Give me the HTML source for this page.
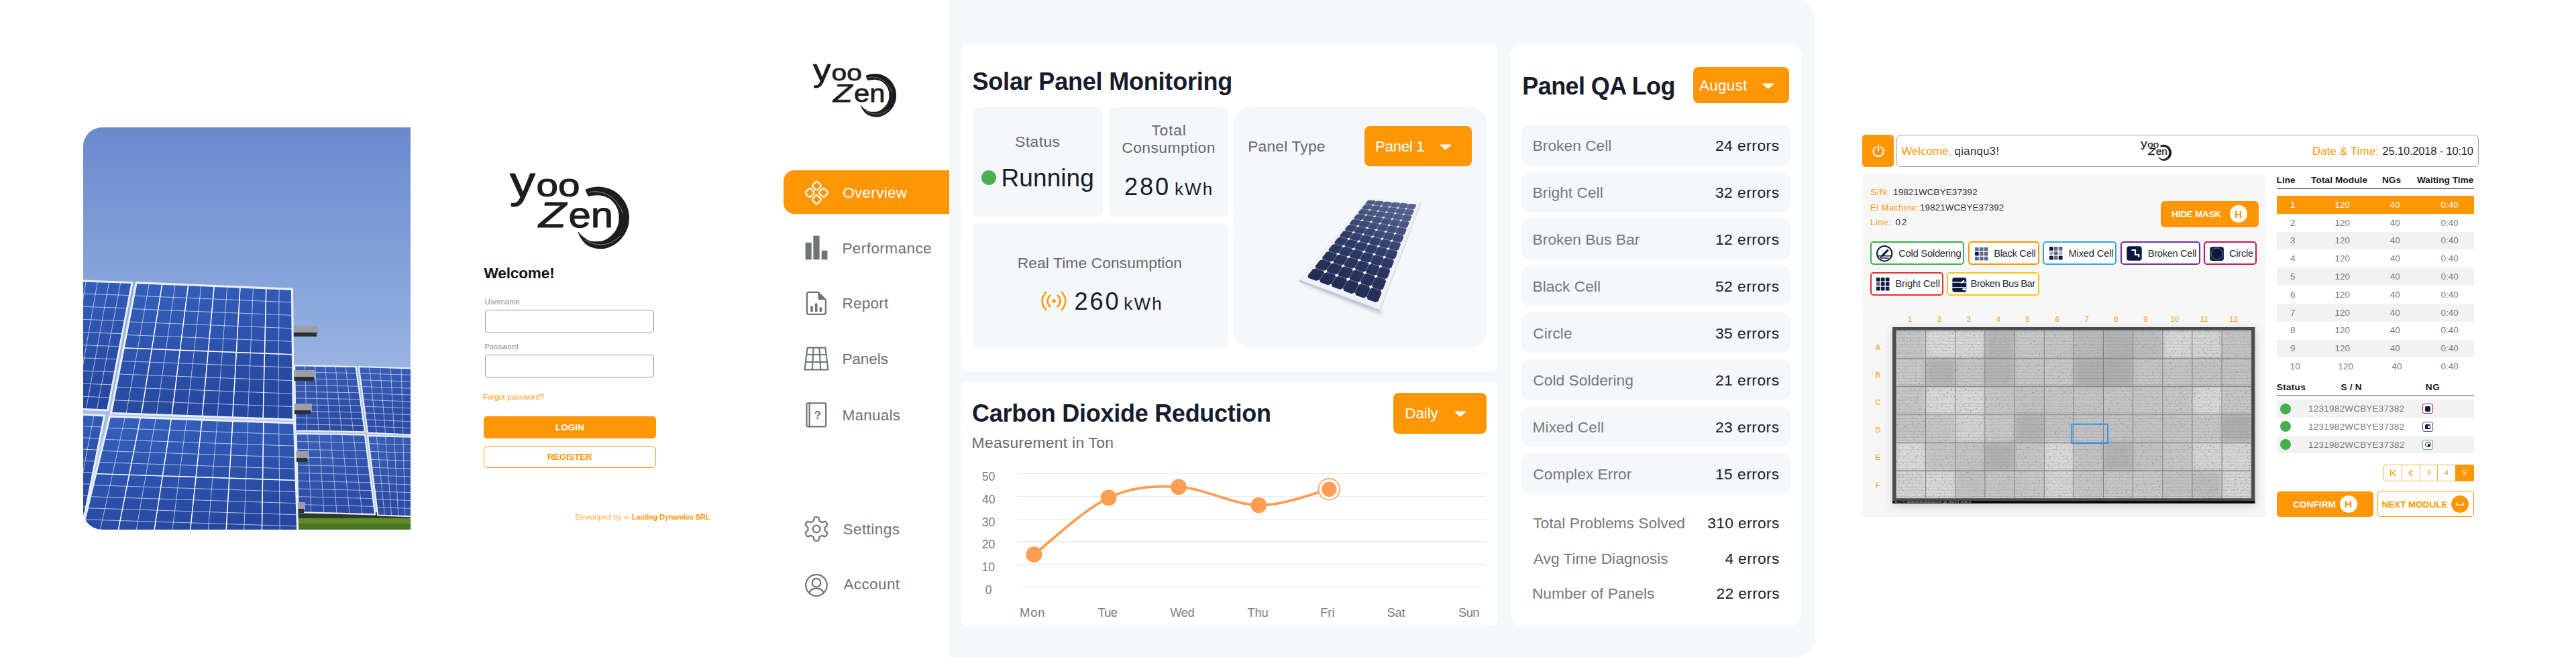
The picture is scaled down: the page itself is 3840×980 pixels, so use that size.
<!DOCTYPE html>
<html lang="en"><head><meta charset="utf-8"><title>YooZen Solar Panel Monitoring</title>
<style>
html,body{margin:0;padding:0;background:#fff;}
body{width:3840px;height:980px;position:relative;overflow:hidden;font-family:"Liberation Sans",sans-serif;}
.t{position:absolute;white-space:pre;line-height:1;display:block;}
.b{position:absolute;display:block;}
</style></head><body>

<svg class="b" style="left:124.0px;top:190.0px;border-radius:28px 0 0 28px;" width="488" height="600" viewBox="0 0 488 600"><defs><linearGradient id="sky" x1="0" y1="0" x2="0" y2="1"><stop offset="0" stop-color="#6a8acd"/><stop offset="0.42" stop-color="#89a7dc"/><stop offset="0.75" stop-color="#a8c0e8"/><stop offset="1" stop-color="#c6d7f0"/></linearGradient><linearGradient id="pn" x1="0" y1="0" x2="0.3" y2="1"><stop offset="0" stop-color="#3561bf"/><stop offset="1" stop-color="#26479f"/></linearGradient><linearGradient id="pn2" x1="0" y1="0" x2="0.3" y2="1"><stop offset="0" stop-color="#3a5fb8"/><stop offset="1" stop-color="#2b4ba4"/></linearGradient></defs><rect width="488" height="600" fill="url(#sky)"/><rect x="318" y="574" width="170" height="26" fill="#2e3a2a"/><rect x="318" y="583" width="170" height="17" fill="#5f8a26"/><rect x="318" y="591" width="170" height="9" fill="#4a741d"/><polygon points="315.2,355.2 406.5,357.0 419.9,454.3 316.4,452.5" fill="url(#pn2)"/><path d="M330.4 355.5L333.6 452.8M345.6 355.8L350.9 453.1M360.9 356.1L368.1 453.4M376.1 356.4L385.4 453.7M391.3 356.7L402.6 454.0M315.3 364.9L407.8 366.7M315.4 374.7L409.2 376.5M315.6 384.4L410.5 386.2M315.7 394.1L411.9 395.9M315.8 403.9L413.2 405.6M315.9 413.6L414.5 415.4M316.0 423.3L415.9 425.1M316.2 433.0L417.2 434.8M316.3 442.8L418.6 444.6" stroke="#fff" stroke-width="0.7" fill="none" opacity="0.8"/><polygon points="315.2,355.2 406.5,357.0 419.9,454.3 316.4,452.5" fill="none" stroke="#e9eef5" stroke-width="2.2"/><polygon points="410.7,357.0 490.0,359.4 490.0,458.6 424.1,455.6" fill="url(#pn2)"/><path d="M426.6 357.5L437.3 456.2M442.4 358.0L450.5 456.8M458.3 358.4L463.6 457.4M474.1 358.9L476.8 458.0M412.0 366.9L490.0 369.3M413.4 376.7L490.0 379.2M414.7 386.6L490.0 389.2M416.1 396.4L490.0 399.1M417.4 406.3L490.0 409.0M418.7 416.2L490.0 418.9M420.1 426.0L490.0 428.8M421.4 435.9L490.0 438.8M422.8 445.7L490.0 448.7" stroke="#fff" stroke-width="0.7" fill="none" opacity="0.8"/><polygon points="410.7,357.0 490.0,359.4 490.0,458.6 424.1,455.6" fill="none" stroke="#e9eef5" stroke-width="2.2"/><polygon points="317.6,456.8 419.9,458.6 435.1,577.3 320.7,574.2" fill="url(#pn2)"/><path d="M334.7 457.1L339.8 574.7M351.7 457.4L358.8 575.2M368.8 457.7L377.9 575.8M385.8 458.0L397.0 576.3M402.9 458.3L416.0 576.8M317.9 468.5L421.4 470.5M318.2 480.3L422.9 482.3M318.5 492.0L424.5 494.2M318.8 503.8L426.0 506.1M319.1 515.5L427.5 518.0M319.5 527.2L429.0 529.8M319.8 539.0L430.5 541.7M320.1 550.7L432.1 553.6M320.4 562.5L433.6 565.4" stroke="#fff" stroke-width="0.7" fill="none" opacity="0.8"/><polygon points="317.6,456.8 419.9,458.6 435.1,577.3 320.7,574.2" fill="none" stroke="#e9eef5" stroke-width="2.2"/><polygon points="424.1,459.8 490.0,461.7 490.0,580.3 439.3,578.5" fill="url(#pn2)"/><path d="M437.3 460.2L449.4 578.9M450.5 460.6L459.6 579.2M463.6 460.9L469.7 579.6M476.8 461.3L479.9 579.9M425.6 471.7L490.0 473.6M427.1 483.5L490.0 485.4M428.7 495.4L490.0 497.3M430.2 507.3L490.0 509.1M431.7 519.1L490.0 521.0M433.2 531.0L490.0 532.9M434.7 542.9L490.0 544.7M436.3 554.8L490.0 556.6M437.8 566.6L490.0 568.4" stroke="#fff" stroke-width="0.7" fill="none" opacity="0.8"/><polygon points="424.1,459.8 490.0,461.7 490.0,580.3 439.3,578.5" fill="none" stroke="#e9eef5" stroke-width="2.2"/><rect x="313" y="296" width="37" height="12" fill="#9a9fa6"/><rect x="313" y="306" width="35" height="6" fill="#2c2f33"/><rect x="313" y="362" width="33" height="12" fill="#9a9fa6"/><rect x="313" y="372" width="31" height="6" fill="#2c2f33"/><rect x="313" y="412" width="28" height="12" fill="#9a9fa6"/><rect x="313" y="422" width="26" height="6" fill="#2c2f33"/><rect x="314" y="483" width="22" height="12" fill="#9a9fa6"/><rect x="314" y="493" width="20" height="6" fill="#2c2f33"/><rect x="315" y="559" width="16" height="12" fill="#9a9fa6"/><rect x="315" y="569" width="14" height="6" fill="#2c2f33"/><polygon points="-30.0,228.0 73.0,231.6 36.5,422.0 -60.0,418.0" fill="url(#pn)"/><path d="M-12.8 228.6L-43.9 418.7M4.3 229.2L-27.8 419.3M21.5 229.8L-11.8 420.0M38.7 230.4L4.3 420.7M55.8 231.0L20.4 421.3M-33.0 247.0L69.3 250.6M-36.0 266.0L65.7 269.7M-39.0 285.0L62.0 288.7M-42.0 304.0L58.4 307.8M-45.0 323.0L54.8 326.8M-48.0 342.0L51.1 345.8M-51.0 361.0L47.5 364.9M-54.0 380.0L43.8 383.9M-57.0 399.0L40.1 403.0" stroke="#fff" stroke-width="0.8" fill="none" opacity="0.8"/><polygon points="-30.0,228.0 73.0,231.6 36.5,422.0 -60.0,418.0" fill="none" stroke="#e9eef5" stroke-width="3"/><polygon points="-62.0,425.0 31.6,430.0 -2.0,600.0 -90.0,600.0" fill="url(#pn)"/><path d="M-46.4 425.8L-75.3 600.0M-30.8 426.7L-60.7 600.0M-15.2 427.5L-46.0 600.0M0.4 428.3L-31.3 600.0M16.0 429.2L-16.7 600.0M-64.8 442.5L28.2 447.0M-67.6 460.0L24.9 464.0M-70.4 477.5L21.5 481.0M-73.2 495.0L18.2 498.0M-76.0 512.5L14.8 515.0M-78.8 530.0L11.4 532.0M-81.6 547.5L8.1 549.0M-84.4 565.0L4.7 566.0M-87.2 582.5L1.4 583.0" stroke="#fff" stroke-width="0.8" fill="none" opacity="0.8"/><polygon points="-62.0,425.0 31.6,430.0 -2.0,600.0 -90.0,600.0" fill="none" stroke="#e9eef5" stroke-width="3"/><polygon points="79.1,231.6 311.5,241.4 313.4,436.1 41.4,426.4" fill="url(#pn)"/><path d="M98.5 232.4L64.1 427.2M117.8 233.2L86.7 428.0M137.2 234.1L109.4 428.8M156.6 234.9L132.1 429.6M175.9 235.7L154.7 430.4M195.3 236.5L177.4 431.2M214.7 237.3L200.1 432.1M234.0 238.1L222.7 432.9M253.4 238.9L245.4 433.7M272.8 239.8L268.1 434.5M292.1 240.6L290.7 435.3M75.3 251.1L311.7 260.9M71.6 270.6L311.9 280.3M67.8 290.0L312.1 299.8M64.0 309.5L312.3 319.3M60.2 329.0L312.4 338.8M56.5 348.5L312.6 358.2M52.7 368.0L312.8 377.7M48.9 387.4L313.0 397.2M45.2 406.9L313.2 416.6" stroke="#fff" stroke-width="0.8" fill="none" opacity="0.8"/><path d="M117.8 233.2L86.7 428.0M156.6 234.9L132.1 429.6M195.3 236.5L177.4 431.2M234.0 238.1L222.7 432.9M272.8 239.8L268.1 434.5M60.2 329.0L312.4 338.8" stroke="#fff" stroke-width="1.44" fill="none"/><polygon points="79.1,231.6 311.5,241.4 313.4,436.1 41.4,426.4" fill="none" stroke="#e9eef5" stroke-width="3.2"/><polygon points="39.6,431.2 314.6,441.0 320.0,612.0 -2.0,602.0" fill="url(#pn)"/><path d="M62.5 432.0L24.8 602.8M85.4 432.8L51.7 603.7M108.3 433.6L78.5 604.5M131.3 434.5L105.3 605.3M154.2 435.3L132.2 606.2M177.1 436.1L159.0 607.0M200.0 436.9L185.8 607.8M222.9 437.7L212.7 608.7M245.8 438.6L239.5 609.5M268.8 439.4L266.3 610.3M291.7 440.2L293.2 611.2M35.4 448.3L315.1 458.1M31.3 465.4L315.7 475.2M27.1 482.4L316.2 492.3M23.0 499.5L316.8 509.4M18.8 516.6L317.3 526.5M14.6 533.7L317.8 543.6M10.5 550.8L318.4 560.7M6.3 567.8L318.9 577.8M2.2 584.9L319.5 594.9" stroke="#fff" stroke-width="0.8" fill="none" opacity="0.8"/><path d="M85.4 432.8L51.7 603.7M131.3 434.5L105.3 605.3M177.1 436.1L159.0 607.0M222.9 437.7L212.7 608.7M268.8 439.4L266.3 610.3M18.8 516.6L317.3 526.5" stroke="#fff" stroke-width="1.44" fill="none"/><polygon points="39.6,431.2 314.6,441.0 320.0,612.0 -2.0,602.0" fill="none" stroke="#e9eef5" stroke-width="3.2"/></svg>
<svg class="b" style="left:760.0px;top:260.0px;overflow:visible;" width="180" height="114" viewBox="0 0 180 114"><path d="M112.3 23.0L116.8 21.1L121.4 19.8L126.2 18.9L131.0 18.6L135.9 18.7L140.7 19.4L145.5 20.5L150.1 22.2L154.5 24.3L158.6 27.0L162.4 30.1L165.9 33.6L169.0 37.4L171.7 41.5L173.9 45.9L175.7 50.5L177.0 55.2L177.7 60.1L178.0 65.0L177.7 69.9L177.0 74.8L175.7 79.5L173.9 84.1L171.7 88.5L169.0 92.6L165.9 96.4L162.4 99.9L158.6 103.0L154.5 105.7L150.1 107.9L145.5 109.7L140.8 111.0L135.9 111.3L131.0 111.0L126.3 110.2L121.7 108.8L117.3 107.0L113.5 104.4L110.1 101.1L107.3 97.6L104.9 94.0L103.1 90.2L101.7 86.3L102.4 85.8L104.6 88.7L107.2 91.4L110.1 93.8L113.1 95.9L116.3 98.0L119.8 99.4L123.6 100.0L127.3 100.2L131.0 100.0L134.7 100.0L138.3 99.3L141.7 98.0L144.9 96.2L147.9 94.2L150.6 91.9L153.0 89.5L155.3 86.9L157.4 84.2L159.1 81.2L160.4 78.1L161.5 74.9L162.2 71.6L162.5 68.3L162.5 65.0L162.5 61.7L162.2 58.4L161.5 55.1L160.5 51.9L159.1 48.8L157.5 45.8L155.4 43.0L153.1 40.4L150.6 38.1L147.8 36.0L144.6 34.4L141.4 33.1L138.0 32.1L134.5 31.5L131.0 31.3L127.5 31.5L123.9 31.8L120.3 32.2L116.8 33.0Z" fill="#1d1d1f"/><path d="M118 27 C135 22 160 32 168 58 M112 98 C128 108 150 108 164 92" stroke="#fff" stroke-width="0.9" fill="none" opacity="0.55"/><g font-family="Liberation Sans, sans-serif" fill="#1d1d1f" stroke="#1d1d1f" stroke-width="1.1" stroke-linejoin="round"><text x="0" y="34.2" font-size="66" textLength="38" lengthAdjust="spacingAndGlyphs">y</text><text x="39.6" y="33.4" font-size="48" textLength="65" lengthAdjust="spacingAndGlyphs">oo</text><text x="43" y="78.6" font-size="53.5" font-style="italic" textLength="41" lengthAdjust="spacingAndGlyphs">Z</text><text x="87.5" y="78.6" font-size="54" textLength="66.5" lengthAdjust="spacingAndGlyphs">en</text></g></svg>
<span class="t" style="left:721.5px;top:397.0px;font-size:22.5px;color:#111;letter-spacing:-0.10px;font-weight:700;">Welcome!</span>
<span class="t" style="left:722.6px;top:445.0px;font-size:11.2px;color:#8a8a8a;letter-spacing:0.09px;">Username</span>
<div class="b" style="left:723.0px;top:462.0px;width:252.0px;height:33.5px;background:#fff;border-radius:4.0px;border:1px solid #9a9a9a;box-sizing:border-box;"></div>
<span class="t" style="left:722.5px;top:512.0px;font-size:11.2px;color:#8a8a8a;letter-spacing:0.14px;">Password</span>
<div class="b" style="left:723.0px;top:529.3px;width:252.0px;height:33.5px;background:#fff;border-radius:4.0px;border:1px solid #9a9a9a;box-sizing:border-box;"></div>
<span class="t" style="left:720.3px;top:587.0px;font-size:11.2px;color:#FF9606;letter-spacing:0.07px;">Forgot password?</span>
<div class="b" style="left:721.0px;top:621.0px;width:257.0px;height:33.0px;background:#FF9606;border-radius:5.0px;"></div>
<span class="t" style="left:828.1px;top:631.0px;font-size:13.4px;color:#fff;letter-spacing:0.08px;font-weight:700;">LOGIN</span>
<div class="b" style="left:721.0px;top:665.5px;width:257.0px;height:32.5px;background:#fff;border-radius:5.0px;border:1.5px solid #FF9606;box-sizing:border-box;"></div>
<span class="t" style="left:815.9px;top:675.0px;font-size:13.4px;color:#FF9606;letter-spacing:-0.26px;font-weight:700;">REGISTER</span>
<span class="t" style="left:857.4px;top:766.0px;font-size:11.2px;color:#FFA83A;letter-spacing:0.06px;">Developed by</span>
<span class="t" style="left:929.9px;top:766.0px;font-size:11.2px;color:#FFA83A;">∞</span>
<span class="t" style="left:942.0px;top:766.0px;font-size:11.2px;color:#FF9606;letter-spacing:-0.25px;font-weight:700;">Lasting Dynamics SRL</span>
<div class="b" style="left:1415.0px;top:0.0px;width:1291.0px;height:980.0px;background:#F4F8FB;border-radius:0 30px 30px 0;"></div>
<div class="b" style="left:1432.2px;top:65.0px;width:801.3px;height:488.8px;background:#fff;border-radius:9.0px;"></div>
<span class="t" style="left:1449.5px;top:104.0px;font-size:36.0px;color:#171c2b;letter-spacing:-0.20px;font-weight:700;">Solar Panel Monitoring</span>
<div class="b" style="left:1449.8px;top:160.2px;width:193.8px;height:163.5px;background:#F4F8FB;border-radius:9.0px;"></div>
<span class="t" style="left:1513.2px;top:200.0px;font-size:22.8px;color:#67696d;letter-spacing:0.44px;">Status</span>
<div class="b" style="left:1463.0px;top:254.0px;width:22.4px;height:22.4px;background:#4CAF50;border-radius:12.0px;"></div>
<span class="t" style="left:1492.5px;top:247.0px;font-size:37.0px;color:#171c2b;letter-spacing:0.09px;">Running</span>
<div class="b" style="left:1652.8px;top:160.2px;width:177.8px;height:163.5px;background:#F4F8FB;border-radius:9.0px;"></div>
<span class="t" style="left:1716.4px;top:183.0px;font-size:22.8px;color:#67696d;letter-spacing:0.83px;">Total</span>
<span class="t" style="left:1672.2px;top:209.0px;font-size:22.8px;color:#67696d;letter-spacing:0.48px;">Consumption</span>
<span class="t" style="left:1676.1px;top:261.0px;font-size:36.2px;color:#171c2b;letter-spacing:2.80px;">280</span>
<span class="t" style="left:1750.9px;top:269.0px;font-size:26.0px;color:#171c2b;letter-spacing:2.19px;">kWh</span>
<div class="b" style="left:1449.8px;top:332.8px;width:380.8px;height:186.2px;background:#F4F8FB;border-radius:9.0px;"></div>
<span class="t" style="left:1516.7px;top:381.0px;font-size:22.8px;color:#67696d;letter-spacing:0.10px;">Real Time Consumption</span>
<svg class="b" style="left:1552.0px;top:434.0px;" width="38" height="30" viewBox="0 0 38 30"><g fill="none" stroke="#FF9606" stroke-width="2.5" stroke-linecap="round"><path d="M7.2 2.2 Q1.6 8 1.6 15 Q1.6 22 7.2 27.8"/><path d="M13.4 6.6 Q9.6 10.4 9.6 15 Q9.6 19.6 13.4 23.4"/><path d="M30.8 2.2 Q36.4 8 36.4 15 Q36.4 22 30.8 27.8"/><path d="M24.6 6.6 Q28.4 10.4 28.4 15 Q28.4 19.6 24.6 23.4"/></g><circle cx="19" cy="15" r="2.7" fill="#FF9606"/></svg>
<span class="t" style="left:1601.6px;top:432.0px;font-size:36.2px;color:#171c2b;letter-spacing:2.80px;">260</span>
<span class="t" style="left:1675.3px;top:440.0px;font-size:26.0px;color:#171c2b;letter-spacing:2.19px;">kWh</span>
<div class="b" style="left:1839.2px;top:160.2px;width:377.0px;height:358.8px;background:#F4F8FB;border-radius:24.0px;"></div>
<span class="t" style="left:1860.2px;top:207.0px;font-size:22.8px;color:#67696d;letter-spacing:0.18px;">Panel Type</span>
<div class="b" style="left:2033.6px;top:187.7px;width:160.4px;height:60.7px;background:#FF9606;border-radius:8.0px;"></div>
<span class="t" style="left:2050.0px;top:208.0px;font-size:22.6px;color:#fff;letter-spacing:-0.51px;">Panel 1</span>
<svg class="b" style="left:2146.4px;top:214.8px;" width="17.6" height="8.6" viewBox="0 0 17.6 8.6"><path d="M1.2 0.6 H16.4 Q17.6 1 17 1.8 L9.7 8 Q8.8 8.8 7.9 8 L0.6 1.8 Q0 1 1.2 0.6Z" fill="#fff"/></svg>
<svg class="b" style="left:1900.0px;top:270.0px;" width="280" height="210" viewBox="0 0 280 210"><defs><linearGradient id="cellg" x1="0.75" y1="0" x2="0.25" y2="1"><stop offset="0" stop-color="#56628c"/><stop offset="0.45" stop-color="#2f3a66"/><stop offset="1" stop-color="#1f284e"/></linearGradient><filter id="sh" x="-20%" y="-50%" width="140%" height="200%"><feGaussianBlur stdDeviation="2.5"/></filter></defs><polygon points="40.8,149.0 158.6,193.8 159.6,198.8 42.8,153.0" fill="#6f7a8c" opacity="0.5" filter="url(#sh)"/><polygon points="36.8,147.0 156.6,191.8 157.1,195.8 36.5,150.4" fill="#c3cad6"/><polygon points="216.7,32.0 156.6,191.8 157.1,195.8 218.3,34.0" fill="#d9dee7"/><polygon points="137.4,25.6 216.7,32.0 156.6,191.8 36.8,147.0" fill="#eef1f6"/><polygon points="139.5,28.3 211.6,34.7 153.5,182.1 47.4,143.4" fill="url(#cellg)"/><path d="M151.5 29.3L65.1 149.9M163.5 30.4L82.8 156.3M175.5 31.5L100.5 162.8M187.5 32.5L118.2 169.2M199.5 33.6L135.9 175.7M134.4 34.6L208.4 42.8M129.0 41.4L204.9 51.5M123.2 48.6L201.3 60.7M117.1 56.3L197.4 70.6M110.5 64.5L193.3 81.1M103.5 73.4L188.8 92.4M95.9 82.8L184.1 104.6M87.7 93.1L178.9 117.6M78.9 104.1L173.3 131.8M69.3 116.1L167.3 147.2M58.8 129.2L160.7 163.9" stroke="#b4bdd0" stroke-width="0.7" fill="none" opacity="0.7"/><path d="M137.5 28.1L140.3 27.2L141.5 28.4L138.7 29.3ZM132.3 34.4L135.3 33.5L136.5 34.9L133.5 35.7ZM126.8 41.1L129.9 40.2L131.2 41.7L128.0 42.6ZM121.0 48.3L124.2 47.3L125.4 48.9L122.2 49.9ZM114.8 55.9L118.2 54.9L119.4 56.7L116.0 57.7ZM108.2 64.1L111.7 63.1L112.9 65.0L109.3 66.0ZM101.0 72.8L104.7 71.8L105.9 73.9L102.2 74.9ZM93.4 82.2L97.2 81.2L98.4 83.5L94.5 84.5ZM85.1 92.4L89.1 91.3L90.3 93.8L86.2 94.9ZM76.2 103.3L80.4 102.2L81.5 104.9L77.3 106.1ZM66.5 115.2L71.0 114.0L72.0 117.0L67.6 118.3ZM55.9 128.2L60.7 126.9L61.7 130.2L57.0 131.5ZM44.4 142.3L49.4 140.9L50.4 144.5L45.4 146.0ZM149.5 29.1L152.3 28.2L153.5 29.5L150.7 30.4ZM144.6 35.8L147.6 34.8L148.8 36.2L145.9 37.2ZM139.5 42.8L142.5 41.8L143.8 43.4L140.8 44.3ZM134.0 50.3L137.2 49.3L138.5 51.0L135.3 51.9ZM128.2 58.3L131.5 57.3L132.8 59.1L129.5 60.1ZM122.0 66.8L125.4 65.8L126.6 67.8L123.2 68.8ZM115.3 76.0L118.8 74.9L120.1 77.1L116.5 78.2ZM108.1 85.8L111.8 84.7L113.1 87.1L109.3 88.2ZM100.3 96.5L104.2 95.3L105.5 97.9L101.5 99.1ZM91.9 108.0L96.1 106.7L97.3 109.5L93.1 110.8ZM82.8 120.4L87.2 119.1L88.4 122.2L84.0 123.5ZM72.9 134.0L77.5 132.5L78.7 135.9L74.1 137.4ZM62.1 148.8L67.0 147.2L68.1 151.0L63.2 152.5ZM161.5 30.2L164.2 29.3L165.6 30.6L162.8 31.6ZM157.0 37.1L159.8 36.1L161.2 37.6L158.3 38.6ZM152.2 44.5L155.1 43.5L156.5 45.0L153.5 46.1ZM147.0 52.3L150.1 51.3L151.5 53.0L148.4 54.0ZM141.6 60.6L144.8 59.6L146.1 61.5L142.9 62.5ZM135.8 69.6L139.1 68.5L140.4 70.5L137.1 71.6ZM129.5 79.2L133.0 78.0L134.3 80.2L130.8 81.4ZM122.8 89.5L126.4 88.3L127.8 90.7L124.1 91.9ZM115.5 100.6L119.4 99.3L120.7 102.0L116.8 103.2ZM107.7 112.6L111.7 111.2L113.0 114.1L109.0 115.5ZM99.2 125.6L103.4 124.2L104.7 127.3L100.4 128.8ZM89.9 139.8L94.4 138.2L95.7 141.7L91.2 143.3ZM79.8 155.2L84.6 153.6L85.8 157.4L81.0 159.1ZM173.5 31.3L176.2 30.3L177.6 31.6L174.8 32.7ZM169.3 38.5L172.1 37.5L173.5 39.0L170.6 40.0ZM164.8 46.2L167.7 45.1L169.1 46.7L166.2 47.8ZM160.1 54.3L163.1 53.2L164.5 55.0L161.4 56.1ZM155.0 63.0L158.1 61.9L159.5 63.8L156.4 65.0ZM149.6 72.3L152.8 71.2L154.2 73.3L150.9 74.5ZM143.7 82.3L147.2 81.1L148.6 83.4L145.1 84.7ZM137.5 93.1L141.0 91.8L142.5 94.3L138.9 95.6ZM130.7 104.7L134.5 103.3L135.9 106.1L132.1 107.4ZM123.4 117.2L127.4 115.7L128.8 118.7L124.8 120.2ZM115.5 130.8L119.7 129.2L121.1 132.5L116.9 134.1ZM106.9 145.5L111.3 143.9L112.7 147.5L108.3 149.2ZM97.5 161.7L102.1 159.9L103.5 163.9L98.8 165.7ZM185.5 32.4L188.2 31.3L189.6 32.7L186.9 33.8ZM181.6 39.9L184.4 38.8L185.8 40.3L183.0 41.4ZM177.5 47.8L180.3 46.7L181.8 48.4L178.9 49.5ZM173.1 56.3L176.0 55.2L177.5 57.0L174.5 58.2ZM168.4 65.4L171.5 64.2L172.9 66.2L169.8 67.4ZM163.3 75.1L166.6 73.9L168.0 76.0L164.8 77.3ZM158.0 85.5L161.3 84.2L162.8 86.6L159.4 87.9ZM152.2 96.7L155.7 95.3L157.2 97.9L153.6 99.3ZM145.9 108.8L149.6 107.3L151.1 110.1L147.4 111.6ZM139.2 121.8L143.0 120.3L144.5 123.4L140.7 124.9ZM131.8 135.9L135.9 134.3L137.4 137.7L133.3 139.4ZM123.9 151.3L128.1 149.6L129.6 153.3L125.4 155.1ZM115.2 168.1L119.7 166.2L121.2 170.3L116.6 172.3ZM197.5 33.4L200.1 32.3L201.6 33.8L199.0 34.9ZM193.9 41.2L196.6 40.1L198.1 41.7L195.4 42.8ZM190.1 49.5L192.9 48.3L194.4 50.1L191.6 51.3ZM186.1 58.4L189.0 57.1L190.5 59.0L187.6 60.3ZM181.8 67.8L184.8 66.5L186.3 68.6L183.3 69.9ZM177.1 77.9L180.3 76.6L181.8 78.8L178.7 80.1ZM172.2 88.7L175.5 87.3L177.0 89.8L173.7 91.2ZM166.9 100.3L170.3 98.9L171.9 101.5L168.4 103.0ZM161.1 112.9L164.7 111.3L166.3 114.2L162.7 115.8ZM154.9 126.4L158.7 124.8L160.3 128.0L156.5 129.6ZM148.2 141.1L152.1 139.4L153.7 142.9L149.8 144.6ZM140.9 157.1L145.0 155.2L146.6 159.1L142.4 161.0ZM132.8 174.6L137.2 172.6L138.9 176.8L134.4 178.8ZM209.5 34.5L212.1 33.3L213.6 34.9L211.0 36.0ZM206.3 42.6L208.9 41.4L210.4 43.1L207.8 44.3ZM202.8 51.2L205.5 50.0L207.1 51.8L204.3 53.0ZM199.1 60.4L201.9 59.1L203.5 61.1L200.7 62.3ZM195.2 70.2L198.1 68.8L199.7 71.0L196.7 72.3ZM190.9 80.6L194.0 79.3L195.6 81.6L192.6 83.0ZM186.4 91.9L189.6 90.4L191.3 92.9L188.1 94.4ZM181.6 103.9L184.9 102.4L186.6 105.2L183.2 106.7ZM176.3 116.9L179.8 115.3L181.5 118.3L178.0 120.0ZM170.7 131.0L174.3 129.3L176.0 132.6L172.3 134.3ZM164.5 146.3L168.4 144.5L170.1 148.0L166.2 149.9ZM157.8 162.9L161.9 160.9L163.6 164.8L159.5 166.9ZM150.5 181.0L154.8 178.9L156.5 183.2L152.3 185.4Z" fill="#f1f3f8"/></svg>
<div class="b" style="left:1432.2px;top:568.8px;width:801.3px;height:364.2px;background:#fff;border-radius:9.0px;"></div>
<span class="t" style="left:1449.0px;top:599.0px;font-size:36.0px;color:#171c2b;letter-spacing:-0.26px;font-weight:700;">Carbon Dioxide Reduction</span>
<span class="t" style="left:1448.6px;top:649.0px;font-size:22.8px;color:#67696d;letter-spacing:0.31px;">Measurement in Ton</span>
<div class="b" style="left:2077.2px;top:586.1px;width:138.6px;height:60.9px;background:#FF9606;border-radius:8.0px;"></div>
<span class="t" style="left:2094.3px;top:606.0px;font-size:22.6px;color:#fff;letter-spacing:-0.19px;">Daily</span>
<svg class="b" style="left:2168.1px;top:613.2px;" width="17.6" height="8.6" viewBox="0 0 17.6 8.6"><path d="M1.2 0.6 H16.4 Q17.6 1 17 1.8 L9.7 8 Q8.8 8.8 7.9 8 L0.6 1.8 Q0 1 1.2 0.6Z" fill="#fff"/></svg>
<div class="b" style="left:1515.6px;top:705.6px;width:700.2px;height:1.2px;background:#E8ECF1;"></div>
<span class="t" style="left:1463.8px;top:703.0px;font-size:17.6px;color:#7a7d82;">50</span>
<div class="b" style="left:1515.6px;top:739.5px;width:700.2px;height:1.2px;background:#E8ECF1;"></div>
<span class="t" style="left:1464.0px;top:737.0px;font-size:17.6px;color:#7a7d82;">40</span>
<div class="b" style="left:1515.6px;top:773.5px;width:700.2px;height:1.2px;background:#E8ECF1;"></div>
<span class="t" style="left:1463.8px;top:771.0px;font-size:17.6px;color:#7a7d82;">30</span>
<div class="b" style="left:1515.6px;top:807.4px;width:700.2px;height:1.2px;background:#E8ECF1;"></div>
<span class="t" style="left:1463.7px;top:804.0px;font-size:17.6px;color:#7a7d82;">20</span>
<div class="b" style="left:1515.6px;top:841.4px;width:700.2px;height:1.2px;background:#E8ECF1;"></div>
<span class="t" style="left:1463.5px;top:838.0px;font-size:17.6px;color:#7a7d82;">10</span>
<div class="b" style="left:1515.6px;top:875.2px;width:700.2px;height:1.2px;background:#E8ECF1;"></div>
<span class="t" style="left:1468.7px;top:872.0px;font-size:17.6px;color:#7a7d82;">0</span>
<svg class="b" style="left:1500.0px;top:690.0px;" width="540" height="200" viewBox="0 0 540 200"><path d="M41.3 137.2 C59.8 123.1 116.5 69.3 152.5 52.5 C188.5 35.7 219.7 34.4 257.0 36.3 C294.3 38.1 339.0 63.0 376.4 63.6 C413.8 64.2 463.8 43.8 481.3 39.8" fill="none" stroke="#FF9D52" stroke-width="3.8" stroke-linecap="round"/><circle cx="41.3" cy="137.2" r="11.9" fill="#FF9D52"/><circle cx="152.5" cy="52.5" r="11.9" fill="#FF9D52"/><circle cx="257.0" cy="36.3" r="11.9" fill="#FF9D52"/><circle cx="376.4" cy="63.6" r="11.9" fill="#FF9D52"/><circle cx="481.3" cy="39.8" r="15.9" fill="#fff" stroke="#FF9D52" stroke-width="1.6"/><circle cx="481.3" cy="39.8" r="11.2" fill="#FF9D52"/></svg>
<span class="t" style="left:1520.0px;top:905.0px;font-size:18.4px;color:#7a7d82;letter-spacing:0.89px;">Mon</span>
<span class="t" style="left:1636.6px;top:905.0px;font-size:18.4px;color:#7a7d82;letter-spacing:-0.85px;">Tue</span>
<span class="t" style="left:1744.2px;top:905.0px;font-size:18.4px;color:#7a7d82;letter-spacing:-0.48px;">Wed</span>
<span class="t" style="left:1859.4px;top:905.0px;font-size:18.4px;color:#7a7d82;letter-spacing:-0.19px;">Thu</span>
<span class="t" style="left:1967.9px;top:905.0px;font-size:18.4px;color:#7a7d82;letter-spacing:0.12px;">Fri</span>
<span class="t" style="left:2067.6px;top:905.0px;font-size:18.4px;color:#7a7d82;letter-spacing:-0.29px;">Sat</span>
<span class="t" style="left:2174.1px;top:905.0px;font-size:18.4px;color:#7a7d82;letter-spacing:-0.61px;">Sun</span>
<div class="b" style="left:2250.7px;top:64.8px;width:435.3px;height:868.8px;background:#fff;border-radius:20.0px;"></div>
<span class="t" style="left:2269.3px;top:111.0px;font-size:36.0px;color:#171c2b;letter-spacing:-0.59px;font-weight:700;">Panel QA Log</span>
<div class="b" style="left:2523.9px;top:100.2px;width:143.2px;height:54.3px;background:#FF9606;border-radius:8.0px;"></div>
<span class="t" style="left:2533.0px;top:117.0px;font-size:22.6px;color:#fff;letter-spacing:0.21px;">August</span>
<svg class="b" style="left:2627.4px;top:123.9px;" width="17.6" height="8.6" viewBox="0 0 17.6 8.6"><path d="M1.2 0.6 H16.4 Q17.6 1 17 1.8 L9.7 8 Q8.8 8.8 7.9 8 L0.6 1.8 Q0 1 1.2 0.6Z" fill="#fff"/></svg>
<div class="b" style="left:2268.3px;top:186.1px;width:400.5px;height:60.5px;background:#F4F8FB;border-radius:14.0px;"></div>
<span class="t" style="left:2284.6px;top:206.0px;font-size:22.8px;color:#76797e;">Broken Cell</span>
<span class="t" style="left:2556.9px;top:206.0px;font-size:22.8px;color:#171c2b;letter-spacing:0.50px;">24 errors</span>
<div class="b" style="left:2268.3px;top:256.1px;width:400.5px;height:60.5px;background:#F4F8FB;border-radius:14.0px;"></div>
<span class="t" style="left:2284.6px;top:276.0px;font-size:22.8px;color:#76797e;">Bright Cell</span>
<span class="t" style="left:2556.9px;top:276.0px;font-size:22.8px;color:#171c2b;letter-spacing:0.50px;">32 errors</span>
<div class="b" style="left:2268.3px;top:326.1px;width:400.5px;height:60.5px;background:#F4F8FB;border-radius:14.0px;"></div>
<span class="t" style="left:2284.6px;top:346.0px;font-size:22.8px;color:#76797e;">Broken Bus Bar</span>
<span class="t" style="left:2556.9px;top:346.0px;font-size:22.8px;color:#171c2b;letter-spacing:0.50px;">12 errors</span>
<div class="b" style="left:2268.3px;top:396.1px;width:400.5px;height:60.5px;background:#F4F8FB;border-radius:14.0px;"></div>
<span class="t" style="left:2284.6px;top:416.0px;font-size:22.8px;color:#76797e;">Black Cell</span>
<span class="t" style="left:2556.9px;top:416.0px;font-size:22.8px;color:#171c2b;letter-spacing:0.50px;">52 errors</span>
<div class="b" style="left:2268.3px;top:466.1px;width:400.5px;height:60.5px;background:#F4F8FB;border-radius:14.0px;"></div>
<span class="t" style="left:2285.3px;top:486.0px;font-size:22.8px;color:#76797e;">Circle</span>
<span class="t" style="left:2556.9px;top:486.0px;font-size:22.8px;color:#171c2b;letter-spacing:0.50px;">35 errors</span>
<div class="b" style="left:2268.3px;top:536.1px;width:400.5px;height:60.5px;background:#F4F8FB;border-radius:14.0px;"></div>
<span class="t" style="left:2285.3px;top:556.0px;font-size:22.8px;color:#76797e;">Cold Soldering</span>
<span class="t" style="left:2556.9px;top:556.0px;font-size:22.8px;color:#171c2b;letter-spacing:0.50px;">21 errors</span>
<div class="b" style="left:2268.3px;top:606.1px;width:400.5px;height:60.5px;background:#F4F8FB;border-radius:14.0px;"></div>
<span class="t" style="left:2284.6px;top:626.0px;font-size:22.8px;color:#76797e;">Mixed Cell</span>
<span class="t" style="left:2556.9px;top:626.0px;font-size:22.8px;color:#171c2b;letter-spacing:0.50px;">23 errors</span>
<div class="b" style="left:2268.3px;top:676.1px;width:400.5px;height:60.5px;background:#F4F8FB;border-radius:14.0px;"></div>
<span class="t" style="left:2285.3px;top:696.0px;font-size:22.8px;color:#76797e;">Complex Error</span>
<span class="t" style="left:2556.9px;top:696.0px;font-size:22.8px;color:#171c2b;letter-spacing:0.50px;">15 errors</span>
<span class="t" style="left:2285.2px;top:769.0px;font-size:22.8px;color:#76797e;">Total Problems Solved</span>
<span class="t" style="left:2545.2px;top:769.0px;font-size:22.8px;color:#171c2b;letter-spacing:0.37px;">310 errors</span>
<span class="t" style="left:2285.7px;top:822.0px;font-size:22.8px;color:#76797e;">Avg Time Diagnosis</span>
<span class="t" style="left:2571.4px;top:822.0px;font-size:22.8px;color:#171c2b;letter-spacing:0.36px;">4 errors</span>
<span class="t" style="left:2283.9px;top:874.0px;font-size:22.8px;color:#76797e;">Number of Panels</span>
<span class="t" style="left:2558.4px;top:874.0px;font-size:22.8px;color:#171c2b;letter-spacing:0.37px;">22 errors</span>
<svg class="b" style="left:1212.3px;top:96.6px;overflow:visible;" width="125.5" height="79.5" viewBox="0 0 180 114"><path d="M112.3 23.0L116.8 21.1L121.4 19.8L126.2 18.9L131.0 18.6L135.9 18.7L140.7 19.4L145.5 20.5L150.1 22.2L154.5 24.3L158.6 27.0L162.4 30.1L165.9 33.6L169.0 37.4L171.7 41.5L173.9 45.9L175.7 50.5L177.0 55.2L177.7 60.1L178.0 65.0L177.7 69.9L177.0 74.8L175.7 79.5L173.9 84.1L171.7 88.5L169.0 92.6L165.9 96.4L162.4 99.9L158.6 103.0L154.5 105.7L150.1 107.9L145.5 109.7L140.8 111.0L135.9 111.3L131.0 111.0L126.3 110.2L121.7 108.8L117.3 107.0L113.5 104.4L110.1 101.1L107.3 97.6L104.9 94.0L103.1 90.2L101.7 86.3L102.4 85.8L104.6 88.7L107.2 91.4L110.1 93.8L113.1 95.9L116.3 98.0L119.8 99.4L123.6 100.0L127.3 100.2L131.0 100.0L134.7 100.0L138.3 99.3L141.7 98.0L144.9 96.2L147.9 94.2L150.6 91.9L153.0 89.5L155.3 86.9L157.4 84.2L159.1 81.2L160.4 78.1L161.5 74.9L162.2 71.6L162.5 68.3L162.5 65.0L162.5 61.7L162.2 58.4L161.5 55.1L160.5 51.9L159.1 48.8L157.5 45.8L155.4 43.0L153.1 40.4L150.6 38.1L147.8 36.0L144.6 34.4L141.4 33.1L138.0 32.1L134.5 31.5L131.0 31.3L127.5 31.5L123.9 31.8L120.3 32.2L116.8 33.0Z" fill="#1d1d1f"/><path d="M118 27 C135 22 160 32 168 58 M112 98 C128 108 150 108 164 92" stroke="#fff" stroke-width="0.9" fill="none" opacity="0.55"/><g font-family="Liberation Sans, sans-serif" fill="#1d1d1f" stroke="#1d1d1f" stroke-width="1.1" stroke-linejoin="round"><text x="0" y="34.2" font-size="66" textLength="38" lengthAdjust="spacingAndGlyphs">y</text><text x="39.6" y="33.4" font-size="48" textLength="65" lengthAdjust="spacingAndGlyphs">oo</text><text x="43" y="78.6" font-size="53.5" font-style="italic" textLength="41" lengthAdjust="spacingAndGlyphs">Z</text><text x="87.5" y="78.6" font-size="54" textLength="66.5" lengthAdjust="spacingAndGlyphs">en</text></g></svg>
<div class="b" style="left:1168.0px;top:254.0px;width:247.0px;height:65.2px;background:#FF9606;border-radius:16px 0 0 16px;"></div>
<svg class="b" style="left:1198.6px;top:268.5px;" width="36.8" height="36.8" viewBox="0 0 36.8 36.8"><g fill="none" stroke="#fff" stroke-width="2.1"><rect x="13.2" y="3" width="10.4" height="10.4" rx="2.9" transform="rotate(45 18.4 8.2)"/><rect x="3" y="13.2" width="10.4" height="10.4" rx="2.9" transform="rotate(45 8.2 18.4)"/><rect x="23.4" y="13.2" width="10.4" height="10.4" rx="2.9" transform="rotate(45 28.6 18.4)"/><rect x="13.2" y="23.4" width="10.4" height="10.4" rx="2.9" transform="rotate(45 18.4 28.6)"/></g></svg>
<span class="t" style="left:1256.2px;top:277.0px;font-size:22.6px;color:#fff;letter-spacing:0.25px;">Overview</span>
<svg class="b" style="left:1200.0px;top:351.0px;" width="34" height="37" viewBox="0 0 34 37"><g fill="#6f7479"><rect x="0.6" y="10.9" width="9.1" height="25.3"/><rect x="12.4" y="0.6" width="9.2" height="35.6"/><rect x="24.7" y="22.8" width="8.7" height="13.4"/></g></svg>
<span class="t" style="left:1255.4px;top:360.0px;font-size:22.6px;color:#6d7278;letter-spacing:0.39px;">Performance</span>
<svg class="b" style="left:1201.0px;top:434.0px;" width="32" height="37" viewBox="0 0 32 37"><path d="M4.6 1.9 H18.5 L29.9 13.3 V31.6 Q29.9 34.9 26.6 34.9 H4.6 Q1.9 34.9 1.9 31.9 V4.9 Q1.9 1.9 4.6 1.9Z" fill="none" stroke="#6f7479" stroke-width="2.3"/><path d="M18.5 1.9 L29.9 13.3 H20.5 Q18.5 13.3 18.5 11.3Z" fill="#6f7479"/><g fill="#6f7479"><rect x="7.2" y="22.5" width="3.6" height="8.4"/><rect x="13.9" y="18.5" width="3.6" height="12.4"/><rect x="20.6" y="24.5" width="3.6" height="6.4"/></g></svg>
<span class="t" style="left:1255.4px;top:442.0px;font-size:22.6px;color:#6d7278;letter-spacing:0.22px;">Report</span>
<svg class="b" style="left:1198.0px;top:517.0px;" width="38" height="36" viewBox="0 0 38 36"><g fill="none" stroke="#6f7479" stroke-width="2.1" stroke-linejoin="round"><path d="M5.6 1.6 H32.4 L36.4 34.4 H1.6Z"/><path d="M14.6 1.6 L12.8 34.4 M23.4 1.6 L25.2 34.4 M4.4 12 H33.6 M3 23 H35"/></g></svg>
<span class="t" style="left:1255.4px;top:525.0px;font-size:22.6px;color:#6d7278;letter-spacing:-0.11px;">Panels</span>
<svg class="b" style="left:1201.0px;top:600.0px;" width="32" height="38" viewBox="0 0 32 38"><g fill="none" stroke="#6f7479" stroke-width="2.2"><rect x="1.5" y="1.3" width="28.6" height="35" rx="2"/><path d="M5.6 1.3 V36.3"/></g><text x="17.8" y="24.6" text-anchor="middle" font-family="Liberation Sans, sans-serif" font-weight="700" font-size="16.5" fill="#6f7479">?</text></svg>
<span class="t" style="left:1255.4px;top:609.0px;font-size:22.6px;color:#6d7278;letter-spacing:0.20px;">Manuals</span>
<svg class="b" style="left:1198.0px;top:770.0px;" width="38" height="38" viewBox="0 0 38 38"><path d="M19.00 1.40L19.92 1.42L20.84 1.50L21.75 1.62L22.44 2.79L22.91 4.41L23.21 6.04L23.52 7.24L24.12 7.49L24.72 7.77L25.30 8.09L25.86 8.43L26.41 8.81L26.93 9.21L28.12 8.87L29.68 8.32L31.31 7.91L32.68 7.92L33.24 8.65L33.76 9.41L34.24 10.20L34.68 11.01L35.08 11.84L35.43 12.69L34.76 13.88L33.59 15.09L32.33 16.17L31.44 17.03L31.53 17.68L31.58 18.34L31.60 19.00L31.58 19.66L31.53 20.32L31.44 20.97L32.33 21.83L33.59 22.91L34.76 24.12L35.43 25.31L35.08 26.16L34.68 26.99L34.24 27.80L33.76 28.59L33.24 29.35L32.68 30.08L31.31 30.09L29.68 29.68L28.12 29.13L26.93 28.79L26.41 29.19L25.86 29.57L25.30 29.91L24.72 30.23L24.12 30.51L23.52 30.76L23.21 31.96L22.91 33.59L22.44 35.21L21.75 36.38L20.84 36.50L19.92 36.58L19.00 36.60L18.08 36.58L17.16 36.50L16.25 36.38L15.56 35.21L15.09 33.59L14.79 31.96L14.48 30.76L13.88 30.51L13.28 30.23L12.70 29.91L12.14 29.57L11.59 29.19L11.07 28.79L9.88 29.13L8.32 29.68L6.69 30.09L5.32 30.08L4.76 29.35L4.24 28.59L3.76 27.80L3.32 26.99L2.92 26.16L2.57 25.31L3.24 24.12L4.41 22.91L5.67 21.83L6.56 20.97L6.47 20.32L6.42 19.66L6.40 19.00L6.42 18.34L6.47 17.68L6.56 17.03L5.67 16.17L4.41 15.09L3.24 13.88L2.57 12.69L2.92 11.84L3.32 11.01L3.76 10.20L4.24 9.41L4.76 8.65L5.32 7.92L6.69 7.91L8.32 8.32L9.88 8.87L11.07 9.21L11.59 8.81L12.14 8.43L12.70 8.09L13.28 7.77L13.88 7.49L14.48 7.24L14.79 6.04L15.09 4.41L15.56 2.79L16.25 1.62L17.16 1.50L18.08 1.42L19.00 1.40Z" fill="none" stroke="#6f7479" stroke-width="2.2" stroke-linejoin="round"/><circle cx="19" cy="19" r="5.4" fill="none" stroke="#6f7479" stroke-width="2.2"/></svg>
<span class="t" style="left:1256.4px;top:779.0px;font-size:22.6px;color:#6d7278;letter-spacing:0.44px;">Settings</span>
<svg class="b" style="left:1198.6px;top:854.7px;" width="36" height="36" viewBox="0 0 36 36"><g fill="none" stroke="#6f7479" stroke-width="2.2"><circle cx="18" cy="18" r="15.8"/><circle cx="18" cy="14.2" r="6.3"/><path d="M7.3 29.4 Q9.5 22.6 18 22.6 Q26.5 22.6 28.7 29.4"/></g></svg>
<span class="t" style="left:1257.4px;top:861.0px;font-size:22.6px;color:#6d7278;letter-spacing:0.34px;">Account</span>
<div class="b" style="left:2776.0px;top:201.2px;width:47.2px;height:47.4px;background:#FF9606;border-radius:5.0px;"></div>
<svg class="b" style="left:2788.0px;top:212.6px;" width="24" height="24" viewBox="0 0 24 24"><g fill="none" stroke="#fff" stroke-width="1.9" stroke-linecap="round"><path d="M8.2 6.2 A7.6 7.6 0 1 0 15.8 6.2"/><path d="M12 3.4 V11.6"/></g></svg>
<div class="b" style="left:2827.2px;top:201.0px;width:867.4px;height:47.7px;background:#fff;border-radius:6.0px;border:1px solid #a4a4a4;box-sizing:border-box;"></div>
<span class="t" style="left:2834.4px;top:218.0px;font-size:16.6px;color:#FF9606;letter-spacing:0.15px;">Welcome,</span>
<span class="t" style="left:2913.5px;top:218.0px;font-size:16.6px;color:#2a2d33;letter-spacing:0.42px;">qianqu3!</span>
<svg class="b" style="left:3190.6px;top:210.7px;overflow:visible;" width="46.6" height="29.5" viewBox="0 0 180 114"><path d="M112.3 23.0L116.8 21.1L121.4 19.8L126.2 18.9L131.0 18.6L135.9 18.7L140.7 19.4L145.5 20.5L150.1 22.2L154.5 24.3L158.6 27.0L162.4 30.1L165.9 33.6L169.0 37.4L171.7 41.5L173.9 45.9L175.7 50.5L177.0 55.2L177.7 60.1L178.0 65.0L177.7 69.9L177.0 74.8L175.7 79.5L173.9 84.1L171.7 88.5L169.0 92.6L165.9 96.4L162.4 99.9L158.6 103.0L154.5 105.7L150.1 107.9L145.5 109.7L140.8 111.0L135.9 111.3L131.0 111.0L126.3 110.2L121.7 108.8L117.3 107.0L113.5 104.4L110.1 101.1L107.3 97.6L104.9 94.0L103.1 90.2L101.7 86.3L102.4 85.8L104.6 88.7L107.2 91.4L110.1 93.8L113.1 95.9L116.3 98.0L119.8 99.4L123.6 100.0L127.3 100.2L131.0 100.0L134.7 100.0L138.3 99.3L141.7 98.0L144.9 96.2L147.9 94.2L150.6 91.9L153.0 89.5L155.3 86.9L157.4 84.2L159.1 81.2L160.4 78.1L161.5 74.9L162.2 71.6L162.5 68.3L162.5 65.0L162.5 61.7L162.2 58.4L161.5 55.1L160.5 51.9L159.1 48.8L157.5 45.8L155.4 43.0L153.1 40.4L150.6 38.1L147.8 36.0L144.6 34.4L141.4 33.1L138.0 32.1L134.5 31.5L131.0 31.3L127.5 31.5L123.9 31.8L120.3 32.2L116.8 33.0Z" fill="#1d1d1f"/><path d="M118 27 C135 22 160 32 168 58 M112 98 C128 108 150 108 164 92" stroke="#fff" stroke-width="0.9" fill="none" opacity="0.55"/><g font-family="Liberation Sans, sans-serif" fill="#1d1d1f" stroke="#1d1d1f" stroke-width="1.1" stroke-linejoin="round"><text x="0" y="34.2" font-size="66" textLength="38" lengthAdjust="spacingAndGlyphs">y</text><text x="39.6" y="33.4" font-size="48" textLength="65" lengthAdjust="spacingAndGlyphs">oo</text><text x="43" y="78.6" font-size="53.5" font-style="italic" textLength="41" lengthAdjust="spacingAndGlyphs">Z</text><text x="87.5" y="78.6" font-size="54" textLength="66.5" lengthAdjust="spacingAndGlyphs">en</text></g></svg>
<span class="t" style="left:3446.9px;top:218.0px;font-size:16.6px;color:#FF9606;letter-spacing:0.30px;">Date &amp; Time:</span>
<span class="t" style="left:3551.6px;top:218.0px;font-size:16.6px;color:#2a2d33;letter-spacing:-0.23px;">25.10.2018 - 10:10</span>
<div class="b" style="left:2776.0px;top:260.2px;width:601.6px;height:511.3px;background:#F7F7F7;border-radius:4.0px;"></div>
<span class="t" style="left:2788.2px;top:280.0px;font-size:13.4px;color:#FF9606;letter-spacing:0.54px;">S/N:</span>
<span class="t" style="left:2822.1px;top:280.0px;font-size:13.4px;color:#2a2d33;letter-spacing:0.14px;">19821WCBYE37392</span>
<span class="t" style="left:2787.7px;top:303.0px;font-size:13.4px;color:#FF9606;letter-spacing:0.29px;">El Machine:</span>
<span class="t" style="left:2862.0px;top:303.0px;font-size:13.4px;color:#2a2d33;letter-spacing:0.12px;">19821WCBYE37392</span>
<span class="t" style="left:2787.7px;top:325.0px;font-size:13.4px;color:#FF9606;letter-spacing:0.49px;">Line:</span>
<span class="t" style="left:2825.5px;top:325.0px;font-size:13.4px;color:#2a2d33;letter-spacing:1.73px;">02</span>
<div class="b" style="left:3220.8px;top:299.7px;width:145.8px;height:39.8px;background:#FF9606;border-radius:6.0px;"></div>
<span class="t" style="left:3237.1px;top:313.0px;font-size:13.6px;color:#fff;letter-spacing:-0.26px;font-weight:700;">HIDE MASK</span>
<div class="b" style="left:3323.5px;top:306.0px;width:26.4px;height:26.4px;background:#fff;border-radius:14.0px;"></div>
<span class="t" style="left:3331.1px;top:312.0px;font-size:15.5px;color:#FF9606;font-weight:700;">H</span>
<div class="b" style="left:2788.3px;top:360.2px;width:140.0px;height:35.1px;background:#fff;border-radius:5.0px;border:2px solid #3FAE49;box-sizing:border-box;"></div>
<svg class="b" style="left:2796.8px;top:366.0px;" width="25" height="25" viewBox="0 0 25 25"><circle cx="12.2" cy="12.2" r="11.2" fill="#fff" stroke="#0d1a3d" stroke-width="2"/><path d="M4.5 19.5 L9 13 L16.5 5.5 L18.8 7.8 L11.3 15.3Z" fill="#0d1a3d"/><path d="M2.5 15.8 H21.9 M6 19 H18.6" stroke="#0d1a3d" stroke-width="1.5"/></svg>
<span class="t" style="left:2830.2px;top:371.0px;font-size:14.8px;color:#2a2d33;letter-spacing:-0.28px;">Cold Soldering</span>
<div class="b" style="left:2933.9px;top:360.2px;width:105.7px;height:35.1px;background:#fff;border-radius:5.0px;border:2px solid #FF9606;box-sizing:border-box;"></div>
<svg class="b" style="left:2943.6px;top:368.7px;" width="20" height="20" viewBox="0 0 20 20"><rect x="0" y="0" width="5.7" height="5.7" rx="0.8" fill="#5d6a8a"/><rect x="6.9" y="0" width="5.7" height="5.7" rx="0.8" fill="#5d6a8a"/><rect x="13.8" y="0" width="5.7" height="5.7" rx="0.8" fill="#5d6a8a"/><rect x="0" y="6.9" width="5.7" height="5.7" rx="0.8" fill="#0d1a3d"/><rect x="6.9" y="6.9" width="5.7" height="5.7" rx="0.8" fill="#5d6a8a"/><rect x="13.8" y="6.9" width="5.7" height="5.7" rx="0.8" fill="#5d6a8a"/><rect x="0" y="13.8" width="5.7" height="5.7" rx="0.8" fill="#5d6a8a"/><rect x="6.9" y="13.8" width="5.7" height="5.7" rx="0.8" fill="#5d6a8a"/><rect x="13.8" y="13.8" width="5.7" height="5.7" rx="0.8" fill="#5d6a8a"/></svg>
<span class="t" style="left:2972.2px;top:371.0px;font-size:14.8px;color:#2a2d33;letter-spacing:-0.36px;">Black Cell</span>
<div class="b" style="left:3045.4px;top:360.2px;width:109.6px;height:35.1px;background:#fff;border-radius:5.0px;border:2px solid #36A3E9;box-sizing:border-box;"></div>
<svg class="b" style="left:3055.0px;top:368.3px;" width="20" height="20" viewBox="0 0 20 20"><rect x="0" y="0" width="5.7" height="5.7" rx="0.8" fill="#0d1a3d"/><rect x="6.9" y="0" width="5.7" height="5.7" rx="0.8" fill="#5d6a8a"/><rect x="13.8" y="0" width="5.7" height="5.7" rx="0.8" fill="#5d6a8a"/><rect x="0" y="6.9" width="5.7" height="5.7" rx="0.8" fill="#aab2c6"/><rect x="6.9" y="6.9" width="5.7" height="5.7" rx="0.8" fill="#5d6a8a"/><rect x="13.8" y="6.9" width="5.7" height="5.7" rx="0.8" fill="#aab2c6"/><rect x="0" y="13.8" width="5.7" height="5.7" rx="0.8" fill="#0d1a3d"/><rect x="6.9" y="13.8" width="5.7" height="5.7" rx="0.8" fill="#5d6a8a"/><rect x="13.8" y="13.8" width="5.7" height="5.7" rx="0.8" fill="#0d1a3d"/></svg>
<span class="t" style="left:3083.5px;top:371.0px;font-size:14.8px;color:#2a2d33;letter-spacing:-0.22px;">Mixed Cell</span>
<div class="b" style="left:3161.0px;top:360.2px;width:118.7px;height:35.1px;background:#fff;border-radius:5.0px;border:2px solid #6B2FA3;box-sizing:border-box;"></div>
<svg class="b" style="left:3170.0px;top:367.0px;" width="23" height="22" viewBox="0 0 23 22"><rect x="0.3" y="0.3" width="22.4" height="21.4" rx="3.6" fill="#0d1a3d"/><path d="M7.5 6 H13 V13 H18.2 V16.5" fill="none" stroke="#fff" stroke-width="2.2"/></svg>
<span class="t" style="left:3201.8px;top:371.0px;font-size:14.8px;color:#2a2d33;letter-spacing:-0.39px;">Broken Cell</span>
<div class="b" style="left:3285.2px;top:360.2px;width:79.0px;height:35.1px;background:#fff;border-radius:5.0px;border:2px solid #C2185B;box-sizing:border-box;"></div>
<svg class="b" style="left:3294.2px;top:367.8px;" width="21.2" height="21.2" viewBox="0 0 21.2 21.2"><rect x="0.3" y="0.3" width="20.6" height="20.6" rx="3.4" fill="#0d1a3d"/><circle cx="10.6" cy="10.6" r="8.6" fill="none" stroke="#9aa3bb" stroke-width="0.6"/></svg>
<span class="t" style="left:3322.9px;top:371.0px;font-size:14.8px;color:#2a2d33;letter-spacing:-0.30px;">Circle</span>
<div class="b" style="left:2788.3px;top:406.2px;width:108.4px;height:34.8px;background:#fff;border-radius:5.0px;border:2px solid #EC2D30;box-sizing:border-box;"></div>
<svg class="b" style="left:2796.8px;top:414.3px;" width="20" height="20" viewBox="0 0 20 20"><rect x="0" y="0" width="5.7" height="5.7" rx="0.8" fill="#0d1a3d"/><rect x="6.9" y="0" width="5.7" height="5.7" rx="0.8" fill="#0d1a3d"/><rect x="13.8" y="0" width="5.7" height="5.7" rx="0.8" fill="#0d1a3d"/><rect x="0" y="6.9" width="5.7" height="5.7" rx="0.8" fill="#5d6a8a"/><rect x="6.9" y="6.9" width="5.7" height="5.7" rx="0.8" fill="#0d1a3d"/><rect x="13.8" y="6.9" width="5.7" height="5.7" rx="0.8" fill="#0d1a3d"/><rect x="0" y="13.8" width="5.7" height="5.7" rx="0.8" fill="#0d1a3d"/><rect x="6.9" y="13.8" width="5.7" height="5.7" rx="0.8" fill="#0d1a3d"/><rect x="13.8" y="13.8" width="5.7" height="5.7" rx="0.8" fill="#0d1a3d"/></svg>
<span class="t" style="left:2825.3px;top:416.0px;font-size:14.8px;color:#2a2d33;letter-spacing:-0.16px;">Bright Cell</span>
<div class="b" style="left:2902.2px;top:406.2px;width:137.4px;height:34.8px;background:#fff;border-radius:5.0px;border:2px solid #FBC321;box-sizing:border-box;"></div>
<svg class="b" style="left:2910.0px;top:413.8px;" width="22" height="22.4" viewBox="0 0 22 22.4"><rect x="0.3" y="0.3" width="21" height="21.4" rx="3.4" fill="#0d1a3d"/><path d="M0 7.2 H21.5 M0 14.6 H21.5" stroke="#fff" stroke-width="1.3"/><path d="M12.5 8.6 L16.2 4 L18.6 4 L15 8.6Z M15.6 16.2 H21 V19 H15.6Z" fill="#fff"/></svg>
<span class="t" style="left:2937.6px;top:416.0px;font-size:14.8px;color:#2a2d33;letter-spacing:-0.55px;">Broken Bus Bar</span>
<span class="t" style="left:2843.9px;top:471.0px;font-size:11.4px;color:#FF9606;">1</span>
<span class="t" style="left:2887.9px;top:471.0px;font-size:11.4px;color:#FF9606;">2</span>
<span class="t" style="left:2931.8px;top:471.0px;font-size:11.4px;color:#FF9606;">3</span>
<span class="t" style="left:2975.8px;top:471.0px;font-size:11.4px;color:#FF9606;">4</span>
<span class="t" style="left:3019.6px;top:471.0px;font-size:11.4px;color:#FF9606;">5</span>
<span class="t" style="left:3063.5px;top:471.0px;font-size:11.4px;color:#FF9606;">6</span>
<span class="t" style="left:3107.4px;top:471.0px;font-size:11.4px;color:#FF9606;">7</span>
<span class="t" style="left:3151.3px;top:471.0px;font-size:11.4px;color:#FF9606;">8</span>
<span class="t" style="left:3195.2px;top:471.0px;font-size:11.4px;color:#FF9606;">9</span>
<span class="t" style="left:3235.7px;top:471.0px;font-size:11.4px;color:#FF9606;">10</span>
<span class="t" style="left:3280.1px;top:471.0px;font-size:11.4px;color:#FF9606;">11</span>
<span class="t" style="left:3323.6px;top:471.0px;font-size:11.4px;color:#FF9606;">12</span>
<span class="t" style="left:2795.7px;top:513.0px;font-size:11.4px;color:#FF9606;">A</span>
<span class="t" style="left:2795.5px;top:554.0px;font-size:11.4px;color:#FF9606;">B</span>
<span class="t" style="left:2795.3px;top:595.0px;font-size:11.4px;color:#FF9606;">C</span>
<span class="t" style="left:2795.2px;top:636.0px;font-size:11.4px;color:#FF9606;">D</span>
<span class="t" style="left:2795.5px;top:677.0px;font-size:11.4px;color:#FF9606;">E</span>
<span class="t" style="left:2795.8px;top:719.0px;font-size:11.4px;color:#FF9606;">F</span>
<svg class="b" style="left:2821.4px;top:488.2px;box-shadow:0 4px 14px rgba(0,0,0,0.16);" width="540.2" height="263.3" viewBox="0 0 540.2 263.3"><defs><filter id="nz" x="0" y="0" width="100%" height="100%"><feTurbulence type="fractalNoise" baseFrequency="0.38" numOctaves="3" seed="5" result="n"/><feColorMatrix type="matrix" values="0 0 0 0 0.33  0 0 0 0 0.33  0 0 0 0 0.33  0 0 0 -3.6 1.5"/><feComposite in2="SourceGraphic" operator="in"/></filter><filter id="bl" x="-5%" y="-5%" width="110%" height="110%"><feGaussianBlur stdDeviation="3.5"/></filter><pattern id="bus" width="44" height="4.63" patternUnits="userSpaceOnUse"><rect y="2" width="44" height="0.7" fill="#6c6c6c" opacity="0.33"/></pattern></defs><rect width="540.2" height="263.3" fill="#4b4c4d"/><rect x="5.4" y="4.6" width="529.8" height="251" fill="#c4c4c5"/><g filter="url(#bl)"><rect x="5.4" y="4.6" width="44.4" height="42.0" fill="#c6c6c7"/><rect x="49.6" y="4.6" width="44.4" height="42.0" fill="#dbdbdc"/><rect x="93.7" y="4.6" width="44.4" height="42.0" fill="#d9d9da"/><rect x="137.9" y="4.6" width="44.4" height="42.0" fill="#b5b5b6"/><rect x="182.0" y="4.6" width="44.4" height="42.0" fill="#c9c9ca"/><rect x="226.2" y="4.6" width="44.4" height="42.0" fill="#c6c6c7"/><rect x="270.3" y="4.6" width="44.4" height="42.0" fill="#bbbbbc"/><rect x="314.5" y="4.6" width="44.4" height="42.0" fill="#b3b3b4"/><rect x="358.6" y="4.6" width="44.4" height="42.0" fill="#bebebf"/><rect x="402.8" y="4.6" width="44.4" height="42.0" fill="#d9d9da"/><rect x="446.9" y="4.6" width="44.4" height="42.0" fill="#d6d6d7"/><rect x="491.1" y="4.6" width="44.4" height="42.0" fill="#c4c4c5"/><rect x="5.4" y="46.4" width="44.4" height="42.0" fill="#c9c9ca"/><rect x="49.6" y="46.4" width="44.4" height="42.0" fill="#b3b3b4"/><rect x="93.7" y="46.4" width="44.4" height="42.0" fill="#c6c6c7"/><rect x="137.9" y="46.4" width="44.4" height="42.0" fill="#b4b4b5"/><rect x="182.0" y="46.4" width="44.4" height="42.0" fill="#c7c7c8"/><rect x="226.2" y="46.4" width="44.4" height="42.0" fill="#c9c9ca"/><rect x="270.3" y="46.4" width="44.4" height="42.0" fill="#b0b0b1"/><rect x="314.5" y="46.4" width="44.4" height="42.0" fill="#afafb0"/><rect x="358.6" y="46.4" width="44.4" height="42.0" fill="#c6c6c7"/><rect x="402.8" y="46.4" width="44.4" height="42.0" fill="#c5c5c6"/><rect x="446.9" y="46.4" width="44.4" height="42.0" fill="#c4c4c5"/><rect x="491.1" y="46.4" width="44.4" height="42.0" fill="#c3c3c4"/><rect x="5.4" y="88.3" width="44.4" height="42.0" fill="#c7c7c8"/><rect x="49.6" y="88.3" width="44.4" height="42.0" fill="#dbdbdc"/><rect x="93.7" y="88.3" width="44.4" height="42.0" fill="#dadadb"/><rect x="137.9" y="88.3" width="44.4" height="42.0" fill="#c8c8c9"/><rect x="182.0" y="88.3" width="44.4" height="42.0" fill="#c3c3c4"/><rect x="226.2" y="88.3" width="44.4" height="42.0" fill="#c7c7c8"/><rect x="270.3" y="88.3" width="44.4" height="42.0" fill="#c6c6c7"/><rect x="314.5" y="88.3" width="44.4" height="42.0" fill="#c6c6c7"/><rect x="358.6" y="88.3" width="44.4" height="42.0" fill="#c8c8c9"/><rect x="402.8" y="88.3" width="44.4" height="42.0" fill="#c8c8c9"/><rect x="446.9" y="88.3" width="44.4" height="42.0" fill="#d9d9da"/><rect x="491.1" y="88.3" width="44.4" height="42.0" fill="#c8c8c9"/><rect x="5.4" y="130.1" width="44.4" height="42.0" fill="#c4c4c5"/><rect x="49.6" y="130.1" width="44.4" height="42.0" fill="#c7c7c8"/><rect x="93.7" y="130.1" width="44.4" height="42.0" fill="#d5d5d6"/><rect x="137.9" y="130.1" width="44.4" height="42.0" fill="#c9c9ca"/><rect x="182.0" y="130.1" width="44.4" height="42.0" fill="#b3b3b4"/><rect x="226.2" y="130.1" width="44.4" height="42.0" fill="#c3c3c4"/><rect x="270.3" y="130.1" width="44.4" height="42.0" fill="#c3c3c4"/><rect x="314.5" y="130.1" width="44.4" height="42.0" fill="#c3c3c4"/><rect x="358.6" y="130.1" width="44.4" height="42.0" fill="#c4c4c5"/><rect x="402.8" y="130.1" width="44.4" height="42.0" fill="#c4c4c5"/><rect x="446.9" y="130.1" width="44.4" height="42.0" fill="#c7c7c8"/><rect x="491.1" y="130.1" width="44.4" height="42.0" fill="#afafb0"/><rect x="5.4" y="171.9" width="44.4" height="42.0" fill="#dbdbdc"/><rect x="49.6" y="171.9" width="44.4" height="42.0" fill="#c6c6c7"/><rect x="93.7" y="171.9" width="44.4" height="42.0" fill="#c5c5c6"/><rect x="137.9" y="171.9" width="44.4" height="42.0" fill="#b2b2b3"/><rect x="182.0" y="171.9" width="44.4" height="42.0" fill="#c7c7c8"/><rect x="226.2" y="171.9" width="44.4" height="42.0" fill="#dbdbdc"/><rect x="270.3" y="171.9" width="44.4" height="42.0" fill="#c4c4c5"/><rect x="314.5" y="171.9" width="44.4" height="42.0" fill="#b3b3b4"/><rect x="358.6" y="171.9" width="44.4" height="42.0" fill="#c4c4c5"/><rect x="402.8" y="171.9" width="44.4" height="42.0" fill="#c8c8c9"/><rect x="446.9" y="171.9" width="44.4" height="42.0" fill="#d7d7d8"/><rect x="491.1" y="171.9" width="44.4" height="42.0" fill="#d8d8d9"/><rect x="5.4" y="213.8" width="44.4" height="42.0" fill="#d5d5d6"/><rect x="49.6" y="213.8" width="44.4" height="42.0" fill="#dadadb"/><rect x="93.7" y="213.8" width="44.4" height="42.0" fill="#c3c3c4"/><rect x="137.9" y="213.8" width="44.4" height="42.0" fill="#c6c6c7"/><rect x="182.0" y="213.8" width="44.4" height="42.0" fill="#c8c8c9"/><rect x="226.2" y="213.8" width="44.4" height="42.0" fill="#d7d7d8"/><rect x="270.3" y="213.8" width="44.4" height="42.0" fill="#c6c6c7"/><rect x="314.5" y="213.8" width="44.4" height="42.0" fill="#c7c7c8"/><rect x="358.6" y="213.8" width="44.4" height="42.0" fill="#c9c9ca"/><rect x="402.8" y="213.8" width="44.4" height="42.0" fill="#c3c3c4"/><rect x="446.9" y="213.8" width="44.4" height="42.0" fill="#bdbdbe"/><rect x="491.1" y="213.8" width="44.4" height="42.0" fill="#d7d7d8"/></g><path d="M0 0H540.2 V263.3 H0 V255.6 H535.2 V4.6 H0Z" fill="#4b4c4d"/><rect x="0" y="0" width="5.4" height="263.3" fill="#4b4c4d"/><rect x="0" y="255.6" width="540.2" height="7.7" fill="#4b4c4d"/><rect x="535.2" y="0" width="5" height="263.3" fill="#4b4c4d"/><rect x="5.4" y="4.6" width="529.8" height="251" fill="url(#bus)"/><rect x="5.4" y="4.6" width="529.8" height="251" fill="#fff" filter="url(#nz)"/><path d="M49.6 4.6V255.6M93.7 4.6V255.6M137.9 4.6V255.6M182.0 4.6V255.6M226.2 4.6V255.6M270.3 4.6V255.6M314.5 4.6V255.6M358.6 4.6V255.6M402.8 4.6V255.6M446.9 4.6V255.6M491.1 4.6V255.6M5.4 46.4H535.2M5.4 88.3H535.2M5.4 130.1H535.2M5.4 171.9H535.2M5.4 213.8H535.2" stroke="#7a7c7e" stroke-width="1" fill="none"/><rect x="0" y="259.3" width="540.2" height="4" fill="#070707"/><text x="4" y="262.4" font-family="Liberation Mono, monospace" font-size="3.4" fill="#e8e8e8">EL-2 PV 19030518020011051015411176.jpg 2019/3/5 13:50:42</text><rect x="267.4" y="144.7" width="53.7" height="28.5" fill="none" stroke="#2492F0" stroke-width="1.9"/></svg>
<span class="t" style="left:3393.6px;top:262.0px;font-size:13.6px;color:#17181a;letter-spacing:-0.02px;font-weight:700;">Line</span>
<span class="t" style="left:3445.1px;top:262.0px;font-size:13.6px;color:#17181a;letter-spacing:0.10px;font-weight:700;">Total Module</span>
<span class="t" style="left:3550.9px;top:262.0px;font-size:13.6px;color:#17181a;letter-spacing:0.14px;font-weight:700;">NGs</span>
<span class="t" style="left:3602.9px;top:262.0px;font-size:13.6px;color:#17181a;letter-spacing:0.06px;font-weight:700;">Waiting Time</span>
<div class="b" style="left:3394.0px;top:280.6px;width:293.6px;height:1.1px;background:#3a3a3a;"></div>
<div class="b" style="left:3394.0px;top:292.1px;width:293.6px;height:26.8px;background:#FF9606;"></div>
<span class="t" style="left:3413.9px;top:299.0px;font-size:13.4px;color:#fff;">1</span>
<span class="t" style="left:3480.6px;top:299.0px;font-size:13.4px;color:#fff;">120</span>
<span class="t" style="left:3562.7px;top:299.0px;font-size:13.4px;color:#fff;">40</span>
<span class="t" style="left:3638.6px;top:299.0px;font-size:13.4px;color:#fff;">0:40</span>
<span class="t" style="left:3414.1px;top:326.0px;font-size:13.4px;color:#7b7b7b;">2</span>
<span class="t" style="left:3480.6px;top:326.0px;font-size:13.4px;color:#7b7b7b;">120</span>
<span class="t" style="left:3562.7px;top:326.0px;font-size:13.4px;color:#7b7b7b;">40</span>
<span class="t" style="left:3638.6px;top:326.0px;font-size:13.4px;color:#7b7b7b;">0:40</span>
<div class="b" style="left:3394.0px;top:345.7px;width:293.6px;height:26.8px;background:#F2F2F2;"></div>
<span class="t" style="left:3414.1px;top:352.0px;font-size:13.4px;color:#7b7b7b;">3</span>
<span class="t" style="left:3480.6px;top:352.0px;font-size:13.4px;color:#7b7b7b;">120</span>
<span class="t" style="left:3562.7px;top:352.0px;font-size:13.4px;color:#7b7b7b;">40</span>
<span class="t" style="left:3638.6px;top:352.0px;font-size:13.4px;color:#7b7b7b;">0:40</span>
<span class="t" style="left:3414.1px;top:379.0px;font-size:13.4px;color:#7b7b7b;">4</span>
<span class="t" style="left:3480.6px;top:379.0px;font-size:13.4px;color:#7b7b7b;">120</span>
<span class="t" style="left:3562.7px;top:379.0px;font-size:13.4px;color:#7b7b7b;">40</span>
<span class="t" style="left:3638.6px;top:379.0px;font-size:13.4px;color:#7b7b7b;">0:40</span>
<div class="b" style="left:3394.0px;top:399.3px;width:293.6px;height:26.8px;background:#F2F2F2;"></div>
<span class="t" style="left:3414.1px;top:406.0px;font-size:13.4px;color:#7b7b7b;">5</span>
<span class="t" style="left:3480.6px;top:406.0px;font-size:13.4px;color:#7b7b7b;">120</span>
<span class="t" style="left:3562.7px;top:406.0px;font-size:13.4px;color:#7b7b7b;">40</span>
<span class="t" style="left:3638.6px;top:406.0px;font-size:13.4px;color:#7b7b7b;">0:40</span>
<span class="t" style="left:3414.0px;top:433.0px;font-size:13.4px;color:#7b7b7b;">6</span>
<span class="t" style="left:3480.6px;top:433.0px;font-size:13.4px;color:#7b7b7b;">120</span>
<span class="t" style="left:3562.7px;top:433.0px;font-size:13.4px;color:#7b7b7b;">40</span>
<span class="t" style="left:3638.6px;top:433.0px;font-size:13.4px;color:#7b7b7b;">0:40</span>
<div class="b" style="left:3394.0px;top:452.9px;width:293.6px;height:26.8px;background:#F2F2F2;"></div>
<span class="t" style="left:3414.1px;top:460.0px;font-size:13.4px;color:#7b7b7b;">7</span>
<span class="t" style="left:3480.6px;top:460.0px;font-size:13.4px;color:#7b7b7b;">120</span>
<span class="t" style="left:3562.7px;top:460.0px;font-size:13.4px;color:#7b7b7b;">40</span>
<span class="t" style="left:3638.6px;top:460.0px;font-size:13.4px;color:#7b7b7b;">0:40</span>
<span class="t" style="left:3414.0px;top:486.0px;font-size:13.4px;color:#7b7b7b;">8</span>
<span class="t" style="left:3480.6px;top:486.0px;font-size:13.4px;color:#7b7b7b;">120</span>
<span class="t" style="left:3562.7px;top:486.0px;font-size:13.4px;color:#7b7b7b;">40</span>
<span class="t" style="left:3638.6px;top:486.0px;font-size:13.4px;color:#7b7b7b;">0:40</span>
<div class="b" style="left:3394.0px;top:506.5px;width:293.6px;height:26.8px;background:#F2F2F2;"></div>
<span class="t" style="left:3414.1px;top:513.0px;font-size:13.4px;color:#7b7b7b;">9</span>
<span class="t" style="left:3480.6px;top:513.0px;font-size:13.4px;color:#7b7b7b;">120</span>
<span class="t" style="left:3562.7px;top:513.0px;font-size:13.4px;color:#7b7b7b;">40</span>
<span class="t" style="left:3638.6px;top:513.0px;font-size:13.4px;color:#7b7b7b;">0:40</span>
<span class="t" style="left:3413.7px;top:540.0px;font-size:13.4px;color:#7b7b7b;">10</span>
<span class="t" style="left:3485.6px;top:540.0px;font-size:13.4px;color:#7b7b7b;">120</span>
<span class="t" style="left:3565.5px;top:540.0px;font-size:13.4px;color:#7b7b7b;">40</span>
<span class="t" style="left:3638.6px;top:540.0px;font-size:13.4px;color:#7b7b7b;">0:40</span>
<span class="t" style="left:3393.8px;top:571.0px;font-size:13.6px;color:#17181a;letter-spacing:0.28px;font-weight:700;">Status</span>
<span class="t" style="left:3489.6px;top:571.0px;font-size:13.6px;color:#17181a;letter-spacing:0.18px;font-weight:700;">S / N</span>
<span class="t" style="left:3615.7px;top:571.0px;font-size:13.6px;color:#17181a;letter-spacing:0.77px;font-weight:700;">NG</span>
<div class="b" style="left:3394.2px;top:590.0px;width:293.6px;height:1.1px;background:#3a3a3a;"></div>
<div class="b" style="left:3394.2px;top:596.2px;width:293.6px;height:26.6px;background:#F2F2F2;"></div>
<div class="b" style="left:3398.9px;top:601.6px;width:16.0px;height:16.0px;background:#45AE4E;border-radius:8.0px;"></div>
<span class="t" style="left:3441.1px;top:603.0px;font-size:13.4px;color:#7b7b7b;letter-spacing:0.29px;">1231982WCBYE37382</span>
<div class="b" style="left:3611.4px;top:602.1px;width:15.9px;height:15.4px;background:#fff;border-radius:3.0px;border:1.4px solid #C2185B;box-sizing:border-box;"></div>
<div class="b" style="left:3615.4px;top:605.9px;width:8.0px;height:7.8px;background:#0d1a3d;border-radius:2.0px;"></div>
<div class="b" style="left:3398.9px;top:628.4px;width:16.0px;height:16.0px;background:#45AE4E;border-radius:8.0px;"></div>
<span class="t" style="left:3441.1px;top:630.0px;font-size:13.4px;color:#7b7b7b;letter-spacing:0.29px;">1231982WCBYE37382</span>
<div class="b" style="left:3611.4px;top:628.9px;width:15.9px;height:15.4px;background:#fff;border-radius:3.0px;border:1.4px solid #6B2FA3;box-sizing:border-box;"></div>
<div class="b" style="left:3615.4px;top:632.7px;width:8.0px;height:7.8px;background:#0d1a3d;border-radius:1.5px;"></div>
<div class="b" style="left:3619.2px;top:635.4px;width:2.6px;height:2.6px;background:#fff;"></div>
<div class="b" style="left:3394.2px;top:649.7px;width:293.6px;height:26.6px;background:#F2F2F2;"></div>
<div class="b" style="left:3398.9px;top:655.1px;width:16.0px;height:16.0px;background:#45AE4E;border-radius:8.0px;"></div>
<span class="t" style="left:3441.1px;top:657.0px;font-size:13.4px;color:#7b7b7b;letter-spacing:0.29px;">1231982WCBYE37382</span>
<div class="b" style="left:3611.4px;top:655.6px;width:15.9px;height:15.4px;background:#fff;border-radius:3.0px;border:1.4px solid #5DB85B;box-sizing:border-box;"></div>
<div class="b" style="left:3615.2px;top:659.2px;width:8.4px;height:8.2px;background:#fff;border-radius:5.0px;border:1.4px solid #0d1a3d;box-sizing:border-box;"></div>
<div class="b" style="left:3618.6px;top:662.3px;width:3.6px;height:3.4px;background:#0d1a3d;border-radius:1.0px;"></div>
<div class="b" style="left:3553.3px;top:693.1px;width:134.5px;height:24.9px;background:#fff;border-radius:3.0px;border:1.2px solid #FFB152;box-sizing:border-box;"></div>
<div class="b" style="left:3580.0px;top:693.1px;width:1.2px;height:24.9px;background:#FFB152;"></div>
<div class="b" style="left:3606.9px;top:693.1px;width:1.2px;height:24.9px;background:#FFB152;"></div>
<div class="b" style="left:3633.0px;top:693.1px;width:1.2px;height:24.9px;background:#FFB152;"></div>
<div class="b" style="left:3660.1px;top:693.1px;width:27.7px;height:24.9px;background:#FF9606;border-radius:0 3px 3px 0;"></div>
<svg class="b" style="left:3561.5px;top:700.2px;" width="11" height="11" viewBox="0 0 11 11"><path d="M1.6 0.8 V10.2 M9.2 0.8 L4.2 5.5 L9.2 10.2" fill="none" stroke="#FF9606" stroke-width="1.5"/></svg>
<svg class="b" style="left:3589.0px;top:700.2px;" width="10" height="11" viewBox="0 0 10 11"><path d="M7.4 0.8 L2.4 5.5 L7.4 10.2" fill="none" stroke="#FF9606" stroke-width="1.5"/></svg>
<span class="t" style="left:3617.7px;top:700.0px;font-size:10.6px;color:#FF9606;">3</span>
<span class="t" style="left:3644.1px;top:700.0px;font-size:10.6px;color:#FF9606;">4</span>
<span class="t" style="left:3671.1px;top:700.0px;font-size:10.6px;color:#fff;">5</span>
<div class="b" style="left:3394.2px;top:732.6px;width:143.6px;height:38.2px;background:#FF9606;border-radius:5.0px;"></div>
<span class="t" style="left:3418.3px;top:746.0px;font-size:13.6px;color:#fff;letter-spacing:0.01px;font-weight:700;">CONFIRM</span>
<div class="b" style="left:3487.6px;top:738.5px;width:26.2px;height:26.2px;background:#fff;border-radius:14.0px;"></div>
<span class="t" style="left:3495.1px;top:744.0px;font-size:15.5px;color:#FF9606;font-weight:700;">H</span>
<div class="b" style="left:3543.8px;top:732.4px;width:144.0px;height:38.6px;background:#fff;border-radius:5.0px;border:1.8px solid #FF9606;box-sizing:border-box;"></div>
<span class="t" style="left:3550.4px;top:746.0px;font-size:13.6px;color:#FF9606;letter-spacing:-0.11px;font-weight:700;">NEXT MODULE</span>
<div class="b" style="left:3654.1px;top:738.5px;width:26.2px;height:26.2px;background:#FF9606;border-radius:14.0px;"></div>
<svg class="b" style="left:3661.2px;top:748.6px;" width="12" height="6" viewBox="0 0 12 6"><path d="M1 0.8 V4.2 H11 V0.8" fill="none" stroke="#fff" stroke-width="1.6"/></svg>

</body></html>
